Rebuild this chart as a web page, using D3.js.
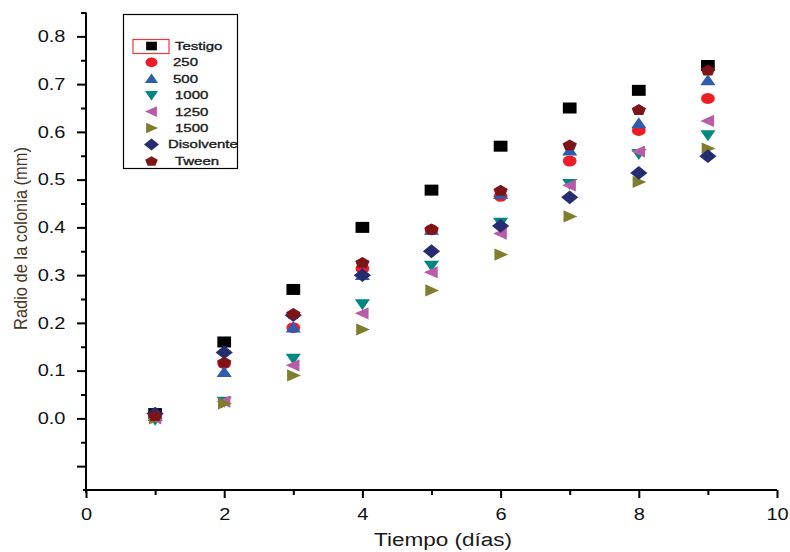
<!DOCTYPE html>
<html>
<head>
<meta charset="utf-8">
<script src="https://cdn.jsdelivr.net/npm/d3@7"></script>
<style>
  body { margin: 0; background: #fff; }
  text { font-family: "Liberation Sans", Arial, sans-serif; }
</style>
</head>
<body>
<div id="chart"></div>
<script>
var days = [1, 2, 3, 4, 5, 6, 7, 8, 9];
var seriesNames = ["Testigo", "250", "500", "1000", "1250", "1500", "Disolvente", "Tween"];
var testigo    = [0.010, 0.160, 0.270, 0.400, 0.478, 0.570, 0.650, 0.687, 0.739];
var s250       = [0.005, 0.115, 0.190, 0.314, 0.395, 0.465, 0.539, 0.603, 0.670];
var s500       = [0.005, 0.097, 0.190, 0.300, 0.395, 0.470, 0.561, 0.618, 0.708];
var s1000      = [-0.003, 0.035, 0.125, 0.239, 0.320, 0.410, 0.491, 0.554, 0.593];
var s1250      = [0.000, 0.035, 0.111, 0.220, 0.306, 0.387, 0.488, 0.559, 0.623];
var s1500      = [0.000, 0.031, 0.090, 0.186, 0.268, 0.343, 0.423, 0.495, 0.565];
var disolvente = [0.010, 0.138, 0.216, 0.300, 0.350, 0.403, 0.463, 0.514, 0.549];
var tween      = [0.006, 0.118, 0.220, 0.327, 0.397, 0.478, 0.573, 0.647, 0.730];
var xTicks = [0, 2, 4, 6, 8, 10];
var yTicks = [0, 0.1, 0.2, 0.3, 0.4, 0.5, 0.6, 0.7, 0.8];

var allSeries = [testigo, s250, s500, s1000, s1250, s1500, disolvente, tween];
var colors = ["#000000", "#ee1c25", "#2e5db0", "#00877f", "#b95ba8", "#7f7d2e", "#252c72", "#7d1418"];
var shapes = ["square", "circle", "up", "down", "left", "right", "diamond", "pentagon"];

var width = 790, height = 552;
var sx = 1.25; // the original is a bit wider than tall everywhere

var svg = d3.select("#chart").append("svg")
    .attr("width", width)
    .attr("height", height);

var x = d3.scaleLinear().domain([0, 10]).range([86, 777]);
var y = d3.scaleLinear().domain([-0.15, 0.85]).range([490, 12.5]);

function polygon(pts) {
    return "M" + pts.map(function (p) { return p[0].toFixed(2) + "," + p[1].toFixed(2); }).join("L") + "Z";
}

function markerPath(shape, r) {
    if (shape == "square") {
        return polygon([[-r, -r], [r, -r], [r, r], [-r, r]]);
    } else if (shape == "circle") {
        return d3.symbol().type(d3.symbolCircle).size(Math.PI * r * r)();
    } else if (shape == "up") {
        return polygon([[0, -r * 1.1], [r * 1.1, r * 0.9], [-r * 1.1, r * 0.9]]);
    } else if (shape == "down") {
        return polygon([[0, r * 1.1], [r * 1.1, -r * 0.9], [-r * 1.1, -r * 0.9]]);
    } else if (shape == "left") {
        return polygon([[-r * 1.1, 0], [r * 0.9, r * 1.1], [r * 0.9, -r * 1.1]]);
    } else if (shape == "right") {
        return polygon([[r * 1.1, 0], [-r * 0.9, r * 1.1], [-r * 0.9, -r * 1.1]]);
    } else if (shape == "diamond") {
        var d = r * 1.25;
        return polygon([[0, -d], [d, 0], [0, d], [-d, 0]]);
    } else {
        var pts = [];
        var pr = r * 1.1;
        for (var i = 0; i < 5; i++) {
            var a = -Math.PI / 2 + i * 2 * Math.PI / 5;
            pts.push([pr * Math.cos(a), pr * Math.sin(a) + 0.7]);
        }
        return polygon(pts);
    }
}

// widen text the same way the picture is widened
function stretch(sel, k) {
    sel.each(function () {
        var w = this.getComputedTextLength();
        d3.select(this).attr("textLength", w * k).attr("lengthAdjust", "spacingAndGlyphs");
    });
}

// axes
var xAxis = d3.axisBottom(x).tickValues(d3.range(0, 11, 1)).tickSize(8).tickFormat(function (d) {
    return xTicks.indexOf(d) >= 0 ? d : "";
});
var gx = svg.append("g").attr("transform", "translate(0," + y(-0.15) + ")").call(xAxis);
gx.select(".domain").attr("d", "M" + (x(0) - 3) + ",0H" + x(10)).attr("stroke", "#000").attr("stroke-width", 2);
gx.selectAll(".tick line").attr("stroke", "#000").attr("stroke-width", 2)
    .attr("y2", function (d) { return xTicks.indexOf(d) >= 0 ? 8 : 5; });
gx.selectAll(".tick text").attr("y", 29.5).attr("dy", 0).attr("font-size", 16).attr("fill", "#111")
    .attr("font-family", "Liberation Sans, Arial, sans-serif")
    .call(stretch, sx);

var yAxis = d3.axisLeft(y).tickValues(d3.range(-0.1, 0.86, 0.05).map(function (v) { return Math.round(v * 100) / 100; }))
    .tickSize(9)
    .tickFormat(function (d) {
        return yTicks.indexOf(d) >= 0 ? d3.format(".1f")(d) : "";
    });
var gy = svg.append("g").attr("transform", "translate(" + x(0) + ",0)").call(yAxis);
gy.select(".domain").attr("d", "M0," + (y(-0.15) + 3) + "V" + y(0.85)).attr("stroke", "#000").attr("stroke-width", 2);
gy.selectAll(".tick line").attr("stroke", "#000").attr("stroke-width", 2)
    .attr("x2", function (d) { return (yTicks.indexOf(d) >= 0 || d == -0.1) ? -9 : -5; });
gy.selectAll(".tick text").attr("x", -20.5).attr("font-size", 16).attr("fill", "#111")
    .attr("font-family", "Liberation Sans, Arial, sans-serif")
    .call(stretch, sx);

svg.append("text")
    .attr("x", 443)
    .attr("y", 546)
    .attr("text-anchor", "middle")
    .attr("font-size", 18)
    .attr("fill", "#1a1a1a")
    .text("Tiempo (días)")
    .call(stretch, sx);

svg.append("text")
    .attr("transform", "translate(27,238.5)scale(1.15,1)rotate(-90)")
    .attr("text-anchor", "middle")
    .attr("font-size", 16)
    .attr("fill", "#4a3526")
    .text("Radio de la colonia (mm)")
    .call(function (sel) {
        sel.attr("textLength", 183).attr("lengthAdjust", "spacingAndGlyphs");
    });

// markers, drawn in series order so later ones sit on top
allSeries.forEach(function (vals, si) {
    svg.append("g").selectAll("path")
        .data(vals).enter()
        .append("path")
        .attr("transform", function (d, i) { return "translate(" + x(days[i]) + "," + y(d) + ")scale(" + sx + ",1)"; })
        .attr("d", markerPath(shapes[si], 5.5))
        .attr("fill", colors[si]);
});

// legend
var legend = svg.append("g");
legend.append("rect")
    .attr("x", 123.5).attr("y", 14.5)
    .attr("width", 114).attr("height", 154)
    .attr("fill", "#fff").attr("stroke", "#000").attr("stroke-width", 1.2);
legend.append("rect")
    .attr("x", 133).attr("y", 39.5)
    .attr("width", 36).attr("height", 14)
    .attr("fill", "none").attr("stroke", "#e23b3b").attr("stroke-width", 1.2);

var legendTextX = [175, 173, 173, 175, 175, 175, 168, 175];
seriesNames.forEach(function (name, i) {
    var ly = 46 + i * 16.4;
    legend.append("path")
        .attr("transform", "translate(151.5," + ly + ")scale(" + sx + ",1)")
        .attr("d", markerPath(shapes[i], i == 0 ? 4.3 : 4.8))
        .attr("fill", colors[i]);
    legend.append("text")
        .attr("x", legendTextX[i])
        .attr("y", ly + 4)
        .attr("font-size", 11.5)
        .attr("fill", "#1a1a1a")
        .attr("stroke", "#1a1a1a")
        .attr("stroke-width", 0.35)
        .text(name)
        .call(stretch, 1.3);
});
</script>
</body>
</html>
